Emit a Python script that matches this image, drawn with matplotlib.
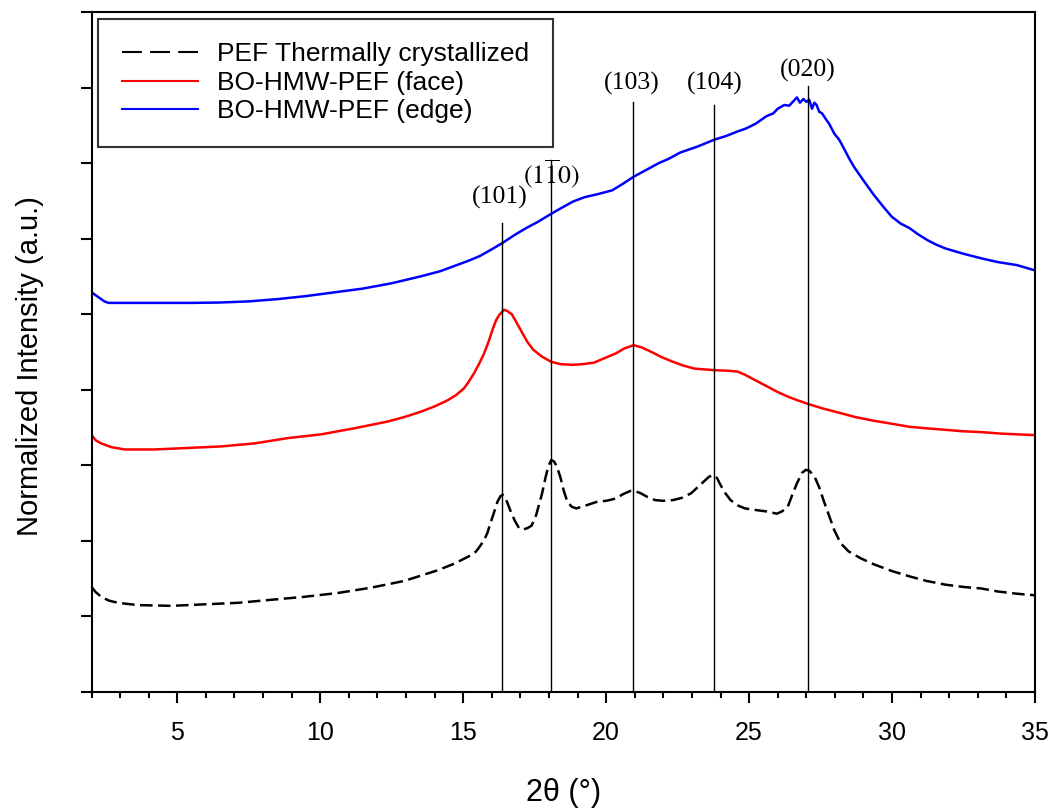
import matplotlib
matplotlib.use('Agg')
import matplotlib.pyplot as plt
from matplotlib.lines import Line2D
from matplotlib.ticker import MultipleLocator

plt.rcParams['mathtext.fontset'] = 'stix'
plt.rcParams['font.family'] = ['Liberation Sans', 'DejaVu Sans']

# ---------------- data ----------------
pef_x = [2.0, 2.15, 2.34, 2.6, 2.93, 3.62, 4.79, 5.95, 7.12, 8.28, 9.45, 10.61, 11.77,
         12.94, 14.1, 14.7, 15.27, 15.45, 15.57, 15.73, 15.85, 15.95, 16.08, 16.2,
         16.3, 16.38, 16.46, 16.55, 16.64, 16.8, 16.95, 17.1, 17.25, 17.39, 17.55,
         17.66, 17.76, 17.88, 17.98, 18.08, 18.18, 18.28, 18.4, 18.52, 18.64, 18.8,
         18.96, 19.3, 19.7, 20.0, 20.33, 20.6, 20.84, 21.0, 21.21, 21.45, 21.71,
         22.0, 22.34, 22.65, 22.97, 23.2, 23.4, 23.6, 23.76, 23.88, 23.97, 24.15,
         24.35, 24.6, 24.85, 25.2, 25.6, 25.97, 26.15, 26.35, 26.5, 26.67, 26.85,
         26.98, 27.1, 27.29, 27.45, 27.6, 27.8, 27.98, 28.2, 28.48, 28.9, 29.36,
         30.0, 30.61, 31.2, 31.87, 32.5, 33.12, 33.7, 34.38, 35.0]
pef_y = [1.39, 1.32, 1.26, 1.21, 1.18, 1.15, 1.14, 1.16, 1.18, 1.22, 1.26, 1.31, 1.38,
         1.47, 1.61, 1.70, 1.81, 1.86, 1.92, 2.01, 2.11, 2.23, 2.38, 2.52,
         2.59, 2.61, 2.58, 2.50, 2.41, 2.27, 2.17, 2.15, 2.17, 2.20, 2.34,
         2.49, 2.63, 2.84, 2.99, 3.07, 3.05, 2.98, 2.84, 2.66, 2.52, 2.45,
         2.43, 2.47, 2.52, 2.53, 2.56, 2.62, 2.66, 2.66, 2.63, 2.58, 2.54,
         2.53, 2.54, 2.57, 2.63, 2.71, 2.78, 2.85, 2.87, 2.83, 2.76, 2.64,
         2.54, 2.47, 2.43, 2.41, 2.39, 2.36, 2.39, 2.45, 2.60, 2.76, 2.90,
         2.94, 2.93, 2.85, 2.71, 2.54, 2.33, 2.14, 1.97, 1.86, 1.77, 1.69,
         1.60, 1.53, 1.47, 1.42, 1.39, 1.37, 1.33, 1.30, 1.28]

face_x = [2.0, 2.15, 2.34, 2.7, 3.16, 4.21, 5.37, 6.53, 7.7, 8.86, 10.03, 11.19, 12.36,
          12.95, 13.52, 14.0, 14.45, 14.75, 15.03, 15.2, 15.38, 15.55, 15.73, 15.9,
          16.02, 16.15, 16.26, 16.43, 16.55, 16.7, 16.88, 17.07, 17.25, 17.45, 17.75,
          18.08, 18.4, 18.83, 19.2, 19.58, 19.95, 20.33, 20.65, 20.96, 21.25, 21.59,
          21.95, 22.34, 22.7, 23.09, 23.78, 24.35, 24.6, 24.85, 25.2, 25.6, 26.0,
          26.35, 26.7, 27.08, 27.6, 28.11, 28.7, 29.36, 30.0, 30.61, 31.2, 31.87,
          32.5, 33.12, 33.8, 34.38, 35.0]
face_y = [3.40, 3.33, 3.29, 3.24, 3.21, 3.21, 3.23, 3.25, 3.29, 3.36, 3.41, 3.49, 3.58,
          3.64, 3.71, 3.78, 3.86, 3.93, 4.02, 4.11, 4.22, 4.34, 4.48, 4.65,
          4.79, 4.92, 4.99, 5.06, 5.04, 5.00, 4.88, 4.75, 4.63, 4.53, 4.44,
          4.37, 4.34, 4.33, 4.34, 4.36, 4.42, 4.48, 4.55, 4.59, 4.56, 4.50,
          4.43, 4.37, 4.32, 4.28, 4.26, 4.25, 4.24, 4.20, 4.13, 4.05, 3.97,
          3.91, 3.86, 3.81, 3.75, 3.70, 3.64, 3.59, 3.55, 3.51, 3.49, 3.47,
          3.45, 3.44, 3.42, 3.41, 3.40]

edge_x = [2.0, 2.15, 2.3, 2.45, 2.6, 3.5, 4.5, 5.5, 6.5, 7.5, 8.5, 9.5, 10.5, 11.5,
          12.5, 13.5, 14.2, 14.7, 15.2, 15.58, 16.0, 16.36, 16.8, 17.2, 17.6, 18.08,
          18.45, 18.83, 19.25, 19.71, 20.21, 20.6, 20.96, 21.4, 21.84, 22.2, 22.59,
          23.2, 23.78, 24.2, 24.6, 24.9, 25.22, 25.45, 25.6, 25.85, 26.0, 26.23,
          26.4, 26.55, 26.67, 26.78, 26.9, 27.0, 27.1, 27.2, 27.28, 27.36, 27.45,
          27.55, 27.67, 27.8, 27.98, 28.15, 28.35, 28.5, 28.67, 29.0, 29.36, 29.7,
          29.99, 30.3, 30.61, 30.9, 31.24, 31.55, 31.87, 32.5, 33.12, 33.7, 34.37,
          35.0]
edge_y = [5.29, 5.25, 5.21, 5.17, 5.15, 5.15, 5.15, 5.15, 5.155, 5.17, 5.20, 5.24,
          5.29, 5.34, 5.41, 5.50, 5.57, 5.64, 5.71, 5.77, 5.86, 5.94, 6.05, 6.14,
          6.22, 6.33, 6.41, 6.49, 6.55, 6.59, 6.64, 6.73, 6.82, 6.91, 7.00, 7.06,
          7.14, 7.22, 7.31, 7.36, 7.42, 7.46, 7.52, 7.58, 7.62, 7.66, 7.72, 7.77,
          7.76, 7.82, 7.87, 7.80, 7.85, 7.81, 7.84, 7.72, 7.80, 7.77, 7.68,
          7.66, 7.59, 7.52, 7.39, 7.31, 7.17, 7.06, 6.95, 6.77, 6.58, 6.42,
          6.29, 6.20, 6.14, 6.06, 5.98, 5.92, 5.87, 5.80, 5.74, 5.69, 5.65,
          5.58]

peak_pos = [16.36, 18.08, 20.93, 23.76, 27.06]
peak_top = [6.21, 7.04, 7.81, 7.77, 8.02]
peak_labels = ['(101)', r'$(1\overline{1}0)$', '(103)', '(104)', '(020)']
label_x = [16.27, 18.07, 20.9, 23.81, 27.06]
label_y = [6.55, 6.86, 8.05, 8.05, 8.23]

series_names = ['PEF Thermally crystallized', 'BO-HMW-PEF (face)', 'BO-HMW-PEF (edge)']

# ---------------- figure ----------------
fig = plt.figure(figsize=(10.58, 8.08), dpi=100)
ax = fig.add_axes([0.0865, 0.1436, 0.8918, 0.8415])

ax.plot(pef_x, pef_y, color='black', lw=1.8, dashes=(5, 2.2))
ax.plot(face_x, face_y, color='#ff0000', lw=1.8)
ax.plot(edge_x, edge_y, color='#0000ff', lw=1.8)

for xp, yt in zip(peak_pos, peak_top):
    ax.plot([xp, xp], [0, yt], color='black', lw=1.0)

for lx, ly, lab in zip(label_x, label_y, peak_labels):
    ax.text(lx, ly, lab, ha='center', va='center', fontsize=18.5,
            family='Liberation Serif')

ax.set_xlim(2, 35)
ax.set_ylim(0, 9)
ax.xaxis.set_major_locator(MultipleLocator(5))
ax.xaxis.set_minor_locator(MultipleLocator(1))
ax.yaxis.set_major_locator(MultipleLocator(1))
ax.set_yticklabels([])
ax.tick_params(axis='both', which='major', direction='out', length=8, width=1.5,
               labelsize=18, pad=13, top=False, right=False)
ax.tick_params(axis='x', which='minor', direction='out', length=4, width=1.5,
               top=False)
for s in ax.spines.values():
    s.set_linewidth(1.5)

ax.set_xlabel('2θ (°)', fontsize=22, labelpad=24)
ax.set_ylabel('Normalized Intensity (a.u.)', fontsize=21)
ax.yaxis.set_label_coords(-0.05, 0.479)

handles = [Line2D([], [], color='black', lw=1.5, dashes=(9.5, 4)),
           Line2D([], [], color='#ff0000', lw=1.5),
           Line2D([], [], color='#0000ff', lw=1.5)]
leg = ax.legend(handles, series_names, loc='upper left', fontsize=19,
                frameon=True, fancybox=False, borderaxespad=0.25,
                borderpad=0.9, labelspacing=0.17, handlelength=2.9,
                handletextpad=0.72)
leg.get_frame().set_edgecolor('black')
leg.get_frame().set_linewidth(1.5)

fig.savefig('out.png', dpi=100)
